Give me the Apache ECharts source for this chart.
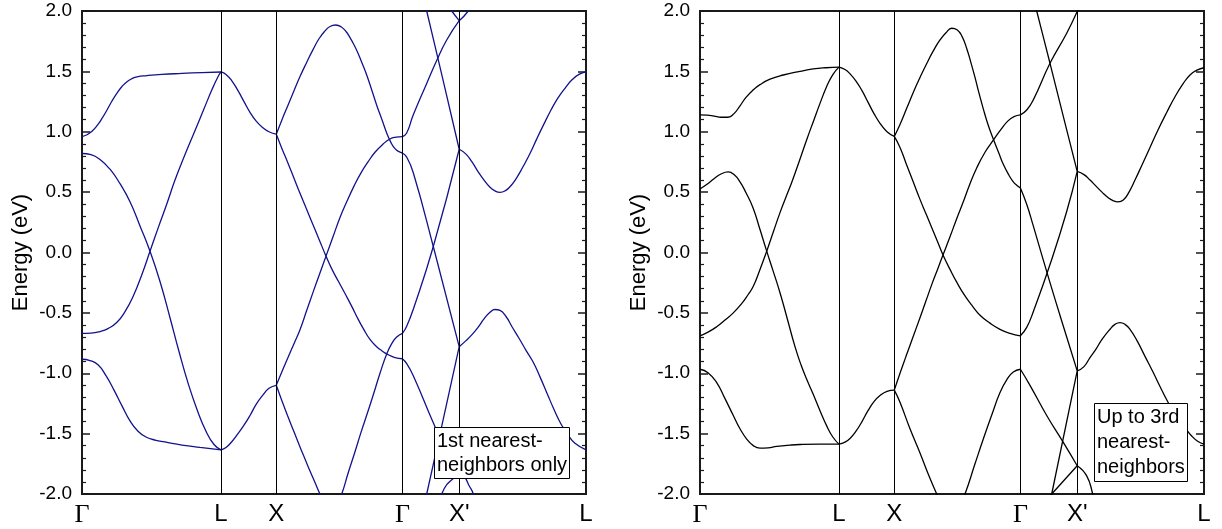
<!DOCTYPE html>
<html>
<head>
<meta charset="utf-8">
<script src="https://cdn.jsdelivr.net/npm/echarts@6/dist/echarts.min.js"></script>
<style>html,body{margin:0;padding:0;background:#fff}#c{width:1222px;height:529px}</style>
</head>
<body>
<div id="c"></div>
<script>
// symmetry points along the k-path (path distance, arbitrary units)
const kPoints = [0, 1.39, 1.943, 3.204, 3.772, 5.04];
const kLabels = ['Γ', 'L', 'X', 'Γ', "X'", 'L'];
const eMin = -2.0, eMax = 2.0, eStep = 0.5;
const panelNotes = ['1st nearest-\nneighbors only', 'Up to 3rd\nnearest-\nneighbors'];

// ---- left panel: 1st nearest neighbours only ----
const nn1_GL_a = [[0,0.96],[0.05,0.975],[0.1,1.005],[0.15,1.05],[0.2,1.11],[0.25,1.18],[0.3,1.255],[0.35,1.32],[0.4,1.375],[0.45,1.415],[0.5,1.44],[0.55,1.455],[0.65,1.465],[0.8,1.475],[1.0,1.483],[1.2,1.49],[1.39,1.495]];
const nn1_GL_b = [[0,0.82],[0.09,0.81],[0.18,0.77],[0.28,0.69],[0.38,0.57],[0.48,0.42],[0.58,0.22],[0.68,0.01],[0.78,-0.24],[0.88,-0.54],[0.97,-0.82],[1.06,-1.08],[1.15,-1.30],[1.24,-1.48],[1.32,-1.59],[1.39,-1.634]];
const nn1_GL_c = [[0,-0.67],[0.09,-0.668],[0.18,-0.655],[0.26,-0.63],[0.347,-0.58],[0.43,-0.49],[0.513,-0.36],[0.6,-0.18],[0.68,0.01],[0.76,0.2],[0.847,0.40],[0.93,0.60],[1.02,0.79],[1.12,0.99],[1.22,1.19],[1.3,1.35],[1.36,1.455],[1.39,1.495]];
const nn1_GL_d = [[0,-0.884],[0.08,-0.895],[0.16,-0.93],[0.24,-1.02],[0.32,-1.14],[0.4,-1.27],[0.48,-1.395],[0.56,-1.48],[0.64,-1.528],[0.74,-1.555],[0.85,-1.573],[1.0,-1.595],[1.18,-1.614],[1.39,-1.634]];
const nn1_LX_a = [[1.39,1.495],[1.44,1.475],[1.5,1.42],[1.56,1.34],[1.62,1.25],[1.68,1.16],[1.74,1.09],[1.8,1.04],[1.87,1.0],[1.943,0.98]];
const nn1_LX_b = [[1.39,-1.634],[1.44,-1.615],[1.5,-1.565],[1.56,-1.50],[1.62,-1.43],[1.68,-1.35],[1.74,-1.26],[1.8,-1.19],[1.87,-1.125],[1.943,-1.10]];
const nn1_XG_a = [[1.943,0.98],[2.0,1.10],[2.06,1.22],[2.12,1.34],[2.18,1.457],[2.25,1.58],[2.31,1.68],[2.37,1.77],[2.43,1.835],[2.48,1.872],[2.537,1.884],[2.59,1.87],[2.64,1.83],[2.68,1.78],[2.72,1.72],[2.76,1.65],[2.8,1.57],[2.847,1.47],[2.9,1.34],[2.947,1.22],[3.0,1.10],[3.047,0.99],[3.09,0.91],[3.13,0.86],[3.17,0.835],[3.204,0.824]];
const nn1_XG_b = [[1.943,0.98],[2.0,0.86],[2.06,0.74],[2.12,0.615],[2.18,0.49],[2.245,0.36],[2.31,0.23],[2.375,0.10],[2.44,-0.03],[2.5,-0.14],[2.565,-0.24],[2.63,-0.34],[2.7,-0.45],[2.76,-0.55],[2.813,-0.63],[2.88,-0.72],[2.947,-0.78],[3.0,-0.815],[3.047,-0.84],[3.13,-0.87],[3.204,-0.88]];
const nn1_XG_c = [[1.943,-1.10],[2.0,-0.985],[2.06,-0.87],[2.12,-0.755],[2.18,-0.64],[2.245,-0.485],[2.31,-0.33],[2.375,-0.18],[2.44,-0.03],[2.51,0.13],[2.58,0.29],[2.647,0.42],[2.72,0.55],[2.79,0.66],[2.86,0.75],[2.93,0.83],[3.013,0.9],[3.08,0.94],[3.14,0.955],[3.204,0.96]];
const nn1_XG_d = [[1.943,-1.10],[2.0,-1.23],[2.06,-1.36],[2.12,-1.485],[2.18,-1.61],[2.23,-1.71],[2.28,-1.81],[2.33,-1.905],[2.38,-2.0],[2.44,-2.09],[2.49,-2.12],[2.545,-2.09],[2.597,-2.0],[2.66,-1.83],[2.73,-1.65],[2.79,-1.49],[2.85,-1.34],[2.92,-1.16],[2.98,-1.0],[3.047,-0.84],[3.1,-0.75],[3.147,-0.70],[3.204,-0.67]];
const nn1_GX_a = [[3.204,0.96],[3.247,0.99],[3.313,1.14],[3.447,1.40],[3.547,1.59],[3.647,1.76],[3.772,1.92]];
const nn1_GX_b = [[3.204,0.824],[3.247,0.79],[3.313,0.66],[3.513,0.05],[3.772,-0.78]];
const nn1_GX_c = [[3.204,-0.67],[3.247,-0.61],[3.313,-0.47],[3.513,0.05],[3.772,0.855]];
const nn1_GX_d = [[3.204,-0.88],[3.247,-0.92],[3.313,-1.02],[3.513,-1.41],[3.64,-1.64],[3.772,-1.85]];
const nn1_GX_e = [[3.28,2.59],[3.447,2.0],[3.61,1.43],[3.772,0.855]];
const nn1_GX_f = [[3.5,2.26],[3.58,2.13],[3.697,2.0],[3.772,1.92]];
const nn1_GX_g = [[3.38,-2.24],[3.447,-2.0],[3.61,-1.39],[3.772,-0.78]];
const nn1_GX_h = [[3.4,-2.5],[3.597,-2.0],[3.73,-1.86],[3.772,-1.85]];
const nn1_XL_a = [[3.772,0.855],[3.84,0.815],[3.9,0.75],[3.96,0.67],[4.02,0.60],[4.08,0.54],[4.13,0.51],[4.18,0.498],[4.23,0.51],[4.28,0.545],[4.34,0.61],[4.41,0.71],[4.48,0.82],[4.55,0.945],[4.62,1.065],[4.69,1.18],[4.76,1.28],[4.83,1.36],[4.9,1.43],[4.97,1.475],[5.04,1.495]];
const nn1_XL_b = [[3.772,-0.78],[3.84,-0.73],[3.9,-0.68],[3.96,-0.62],[4.02,-0.55],[4.08,-0.495],[4.13,-0.472],[4.18,-0.48],[4.24,-0.53],[4.3,-0.615],[4.37,-0.71],[4.44,-0.81],[4.51,-0.905],[4.58,-1.03],[4.65,-1.165],[4.72,-1.30],[4.79,-1.42],[4.86,-1.51],[4.93,-1.58],[5.04,-1.634]];
const nn1_XL_c = [[3.772,1.92],[3.863,2.0],[3.98,2.15],[4.2,2.5]];
const nn1_XL_d = [[3.772,-1.85],[3.82,-1.86],[3.87,-1.93],[3.913,-2.0],[4.0,-2.3]];

// ---- right panel: up to 3rd nearest neighbours ----
const nn3_GL_a = [[0,1.14],[0.07,1.138],[0.14,1.13],[0.21,1.12],[0.28,1.12],[0.34,1.15],[0.4,1.215],[0.46,1.285],[0.53,1.345],[0.6,1.39],[0.7,1.435],[0.833,1.47],[1.0,1.5],[1.133,1.52],[1.26,1.53],[1.39,1.535]];
const nn3_GL_b = [[0,0.526],[0.07,0.565],[0.14,0.61],[0.21,0.65],[0.283,0.667],[0.34,0.645],[0.4,0.585],[0.46,0.495],[0.53,0.37],[0.6,0.19],[0.667,0.011],[0.73,-0.15],[0.8,-0.333],[0.87,-0.54],[0.95,-0.78],[1.01,-0.93],[1.067,-1.05],[1.13,-1.17],[1.2,-1.31],[1.267,-1.436],[1.33,-1.53],[1.39,-1.587]];
const nn3_GL_c = [[0,-0.69],[0.08,-0.66],[0.167,-0.615],[0.25,-0.56],[0.333,-0.50],[0.42,-0.42],[0.48,-0.35],[0.533,-0.28],[0.6,-0.14],[0.667,0.011],[0.733,0.17],[0.8,0.33],[0.86,0.46],[0.917,0.58],[0.99,0.75],[1.067,0.934],[1.14,1.10],[1.2,1.235],[1.267,1.375],[1.33,1.475],[1.39,1.535]];
const nn3_GL_d = [[0,-0.967],[0.08,-0.995],[0.167,-1.077],[0.25,-1.21],[0.333,-1.35],[0.4,-1.46],[0.467,-1.545],[0.53,-1.597],[0.6,-1.62],[0.68,-1.618],[0.767,-1.606],[0.9,-1.595],[1.0,-1.59],[1.2,-1.587],[1.39,-1.587]];
const nn3_LX_a = [[1.39,1.535],[1.45,1.515],[1.5,1.48],[1.56,1.42],[1.62,1.34],[1.68,1.245],[1.74,1.15],[1.8,1.07],[1.87,1.0],[1.943,0.961]];
const nn3_LX_b = [[1.39,-1.587],[1.45,-1.57],[1.5,-1.54],[1.56,-1.48],[1.62,-1.40],[1.68,-1.31],[1.74,-1.235],[1.8,-1.185],[1.87,-1.15],[1.943,-1.14]];
const nn3_XG_a = [[1.943,0.961],[2.0,1.06],[2.07,1.2],[2.14,1.34],[2.2,1.45],[2.27,1.57],[2.333,1.67],[2.4,1.76],[2.46,1.82],[2.517,1.857],[2.57,1.845],[2.62,1.79],[2.667,1.69],[2.71,1.57],[2.75,1.45],[2.79,1.32],[2.833,1.19],[2.88,1.06],[2.933,0.94],[2.99,0.82],[3.033,0.73],[3.09,0.64],[3.133,0.585],[3.17,0.555],[3.204,0.535]];
const nn3_XG_b = [[1.943,0.961],[2.0,0.87],[2.06,0.74],[2.13,0.59],[2.2,0.44],[2.26,0.32],[2.32,0.2],[2.38,0.08],[2.43,-0.02],[2.5,-0.14],[2.57,-0.25],[2.65,-0.36],[2.73,-0.45],[2.8,-0.52],[2.9,-0.585],[3.0,-0.636],[3.1,-0.67],[3.204,-0.69]];
const nn3_XG_c = [[1.943,-1.14],[2.0,-1.0],[2.06,-0.86],[2.13,-0.70],[2.2,-0.54],[2.26,-0.40],[2.32,-0.26],[2.38,-0.13],[2.43,-0.02],[2.5,0.13],[2.567,0.28],[2.633,0.42],[2.7,0.57],[2.767,0.70],[2.85,0.83],[2.933,0.93],[3.01,1.02],[3.08,1.09],[3.14,1.125],[3.204,1.14]];
const nn3_XG_d = [[1.943,-1.14],[2.0,-1.24],[2.1,-1.46],[2.2,-1.66],[2.28,-1.83],[2.367,-2.0],[2.44,-2.13],[2.51,-2.2],[2.58,-2.13],[2.65,-2.0],[2.75,-1.75],[2.833,-1.545],[2.92,-1.34],[3.0,-1.16],[3.07,-1.05],[3.133,-0.99],[3.204,-0.967]];
const nn3_GX_a = [[3.204,1.14],[3.267,1.18],[3.333,1.264],[3.5,1.567],[3.667,1.816],[3.772,1.995]];
const nn3_GX_b = [[3.204,0.535],[3.267,0.40],[3.333,0.22],[3.5,-0.25],[3.667,-0.70],[3.772,-0.98]];
const nn3_GX_c = [[3.204,-0.69],[3.267,-0.62],[3.333,-0.49],[3.5,-0.10],[3.667,0.34],[3.772,0.672]];
const nn3_GX_d = [[3.204,-0.967],[3.3,-1.1],[3.467,-1.35],[3.633,-1.573],[3.772,-1.766]];
const nn3_GX_e = [[3.2,2.55],[3.367,2.0],[3.5,1.567],[3.633,1.127],[3.772,0.672]];
const nn3_GX_f = [[3.45,-2.27],[3.517,-2.0],[3.772,-0.98]];
const nn3_GX_g = [[3.45,-2.06],[3.517,-2.0],[3.772,-1.766]];
const nn3_XL_a = [[3.772,0.672],[3.84,0.645],[3.9,0.6],[3.96,0.55],[4.02,0.5],[4.08,0.455],[4.13,0.43],[4.18,0.42],[4.233,0.435],[4.29,0.5],[4.35,0.6],[4.42,0.725],[4.5,0.87],[4.58,1.015],[4.667,1.16],[4.75,1.29],[4.833,1.40],[4.9,1.47],[4.97,1.51],[5.04,1.53]];
const nn3_XL_b = [[3.772,-0.98],[3.84,-0.945],[3.9,-0.87],[3.96,-0.80],[4.02,-0.72],[4.1,-0.636],[4.15,-0.595],[4.2,-0.58],[4.25,-0.595],[4.3,-0.636],[4.37,-0.73],[4.45,-0.86],[4.53,-0.99],[4.6,-1.11],[4.667,-1.22],[4.75,-1.34],[4.85,-1.45],[4.917,-1.52],[4.98,-1.565],[5.04,-1.587]];
const nn3_XL_c = [[3.772,1.995],[3.9,2.15],[4.1,2.45]];
const nn3_XL_d = [[3.772,-1.766],[3.867,-1.85],[3.927,-2.0],[4.0,-2.25]];

const leftCurves = [nn1_GL_a,nn1_GL_b,nn1_GL_c,nn1_GL_d,nn1_LX_a,nn1_LX_b,nn1_XG_a,nn1_XG_b,nn1_XG_c,nn1_XG_d,
  nn1_GX_a,nn1_GX_b,nn1_GX_c,nn1_GX_d,nn1_GX_e,nn1_GX_f,nn1_GX_g,nn1_GX_h,nn1_XL_a,nn1_XL_b,nn1_XL_c,nn1_XL_d];
const rightCurves = [nn3_GL_a,nn3_GL_b,nn3_GL_c,nn3_GL_d,nn3_LX_a,nn3_LX_b,nn3_XG_a,nn3_XG_b,nn3_XG_c,nn3_XG_d,
  nn3_GX_a,nn3_GX_b,nn3_GX_c,nn3_GX_d,nn3_GX_e,nn3_GX_f,nn3_GX_g,nn3_XL_a,nn3_XL_b,nn3_XL_c,nn3_XL_d];

const FONT = 'Liberation Sans, Arial, sans-serif';
const AX = '#1a1a1a';
const panels = [
  {curves: leftCurves, color: '#12128c', left: 82, note: panelNotes[0], noteLeft: 434, noteTop: 427, noteLH: 24},
  {curves: rightCurves, color: '#000000', left: 700, note: panelNotes[1], noteLeft: 1094, noteTop: 403, noteLH: 25}
];

const grid = [], xAxis = [], yAxis = [], series = [], title = [];
panels.forEach((p, i) => {
  grid.push({left: p.left, top: 11, width: 504, height: 483, show: true, borderColor: AX, borderWidth: 2, backgroundColor: 'transparent'});
  xAxis.push({
    gridIndex: i, type: 'value', min: kPoints[0], max: kPoints[kPoints.length - 1],
    axisLine: {show: false}, axisTick: {show: false}, splitLine: {show: false},
    axisLabel: {
      customValues: kPoints, margin: 8, fontSize: 24, fontFamily: FONT, color: '#000',
      showMinLabel: true, showMaxLabel: true,
      formatter: v => {
        const idx = kPoints.findIndex(k => Math.abs(k - v) < 1e-6);
        const t = idx >= 0 ? kLabels[idx] : '';
        return t === 'Γ' ? '{g|Γ}' : t;
      },
      rich: {g: {fontFamily: 'Liberation Serif, Times New Roman, serif', fontSize: 26, color: '#000'}}
    }
  });
  const yCommon = {
    gridIndex: i, type: 'value', min: eMin, max: eMax, interval: eStep,
    axisLine: {show: false}, splitLine: {show: false},
    axisTick: {show: true, inside: true, length: 8, lineStyle: {color: AX, width: 1.5}},
    minorTick: {show: true, splitNumber: 5, length: 4, lineStyle: {color: AX, width: 1.2}}
  };
  yAxis.push(Object.assign({}, yCommon, {
    position: 'left',
    axisLabel: {formatter: v => v.toFixed(1), fontSize: 19, fontFamily: FONT, color: '#000', margin: 10},
    name: 'Energy (eV)', nameLocation: 'middle', nameGap: 50, nameRotate: 90,
    nameTextStyle: {fontSize: 22, fontFamily: FONT, color: '#000'}
  }));
  yAxis.push(Object.assign({}, yCommon, {position: 'right', axisLabel: {show: false}}));
  p.curves.forEach((d, j) => {
    const s = {
      type: 'line', xAxisIndex: i, yAxisIndex: i * 2, data: d, symbol: 'none', showSymbol: false,
      smooth: 0.5, clip: true, silent: true, animation: false,
      lineStyle: {color: p.color, width: 1.3}
    };
    if (j === 0) {
      s.markLine = {
        symbol: 'none', silent: true, animation: false, label: {show: false},
        lineStyle: {color: '#000', width: 1, type: 'solid'},
        data: kPoints.slice(1, -1).map(k => ({xAxis: k}))
      };
    }
    series.push(s);
  });
  title.push({
    text: p.note, left: p.noteLeft, top: p.noteTop, padding: [2, 3],
    backgroundColor: '#fff', borderColor: '#000', borderWidth: 1,
    textStyle: {fontSize: 20, fontWeight: 'normal', fontFamily: FONT, color: '#000', lineHeight: p.noteLH}
  });
});

const chart = echarts.init(document.getElementById('c'), null, {renderer: 'canvas'});
chart.setOption({animation: false, backgroundColor: '#fff', title, grid, xAxis, yAxis, series});
</script>
</body>
</html>
